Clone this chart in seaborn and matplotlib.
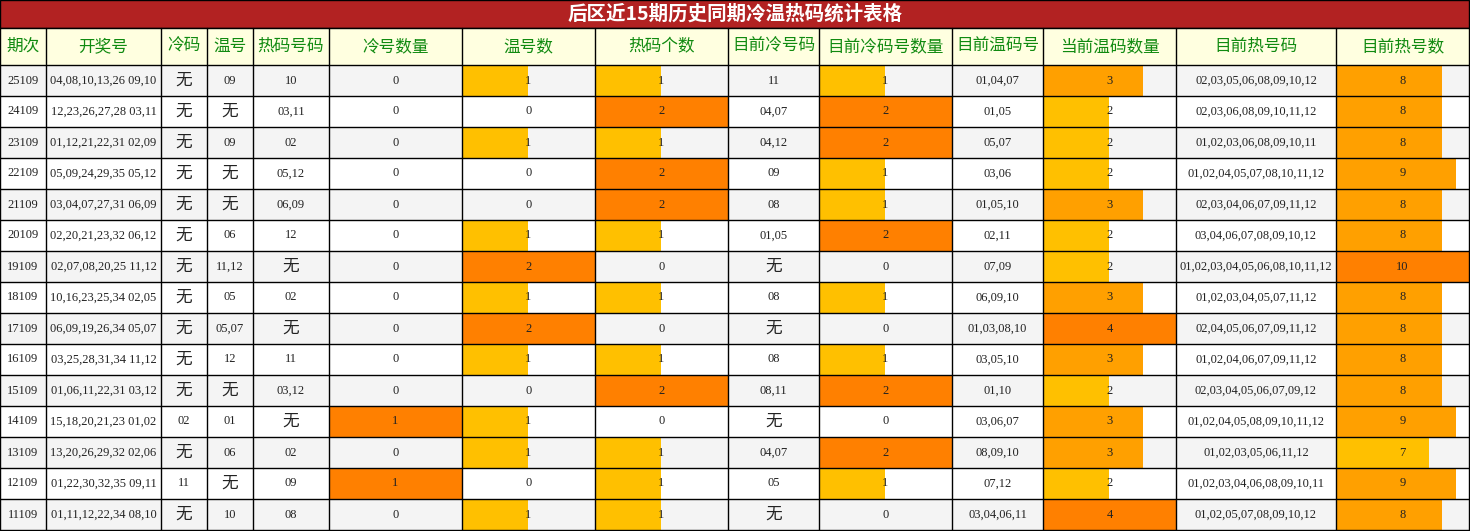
import matplotlib
matplotlib.use("Agg")
import matplotlib.pyplot as plt
from matplotlib.patches import Rectangle
import seaborn as sns

sns.set_theme(style="white")
plt.rcParams['font.family'] = ['Liberation Serif', 'Noto Sans CJK SC']

title = "后区近15期历史同期冷温热码统计表格"
headers = ["期次", "开奖号", "冷码", "温号", "热码号码", "冷号数量", "温号数", "热码个数",
           "目前冷号码", "目前冷码号数量", "目前温码号", "当前温码数量", "目前热号码", "目前热号数"]
periods = ["25109", "24109", "23109", "22109", "21109", "20109", "19109", "18109",
           "17109", "16109", "15109", "14109", "13109", "12109", "11109"]
draws = ["04,08,10,13,26 09,10", "12,23,26,27,28 03,11", "01,12,21,22,31 02,09",
         "05,09,24,29,35 05,12", "03,04,07,27,31 06,09", "02,20,21,23,32 06,12",
         "02,07,08,20,25 11,12", "10,16,23,25,34 02,05", "06,09,19,26,34 05,07",
         "03,25,28,31,34 11,12", "01,06,11,22,31 03,12", "15,18,20,21,23 01,02",
         "13,20,26,29,32 02,06", "01,22,30,32,35 09,11", "01,11,12,22,34 08,10"]
cold = ["无", "无", "无", "无", "无", "无", "无", "无", "无", "无", "无", "02", "无", "11", "无"]
warm = ["09", "无", "09", "无", "无", "06", "11,12", "05", "05,07", "12", "无", "01", "06", "无", "10"]
hot = ["10", "03,11", "02", "05,12", "06,09", "12", "无", "02", "无", "11", "03,12", "无", "02", "09", "08"]
cold_n = [0, 0, 0, 0, 0, 0, 0, 0, 0, 0, 0, 1, 0, 1, 0]
warm_n = [1, 0, 1, 0, 0, 1, 2, 1, 2, 1, 0, 1, 1, 0, 1]
hot_n = [1, 2, 1, 2, 2, 1, 0, 1, 0, 1, 2, 0, 1, 1, 1]
cur_cold = ["11", "04,07", "04,12", "09", "08", "01,05", "无", "08", "无", "08", "08,11", "无", "04,07", "05", "无"]
cur_cold_n = [1, 2, 2, 1, 1, 2, 0, 1, 0, 1, 2, 0, 2, 1, 0]
cur_warm = ["01,04,07", "01,05", "05,07", "03,06", "01,05,10", "02,11", "07,09", "06,09,10",
            "01,03,08,10", "03,05,10", "01,10", "03,06,07", "08,09,10", "07,12", "03,04,06,11"]
cur_warm_n = [3, 2, 2, 2, 3, 2, 2, 3, 4, 3, 2, 3, 3, 2, 4]
cur_hot = ["02,03,05,06,08,09,10,12", "02,03,06,08,09,10,11,12", "01,02,03,06,08,09,10,11",
           "01,02,04,05,07,08,10,11,12", "02,03,04,06,07,09,11,12", "03,04,06,07,08,09,10,12",
           "01,02,03,04,05,06,08,10,11,12", "01,02,03,04,05,07,11,12", "02,04,05,06,07,09,11,12",
           "01,02,04,06,07,09,11,12", "02,03,04,05,06,07,09,12", "01,02,04,05,08,09,10,11,12",
           "01,02,03,05,06,11,12", "01,02,03,04,06,08,09,10,11", "01,02,05,07,08,09,10,12"]
cur_hot_n = [8, 8, 8, 9, 8, 8, 10, 8, 8, 8, 8, 9, 7, 9, 8]

columns = [periods, draws, cold, warm, hot, cold_n, warm_n, hot_n,
           cur_cold, cur_cold_n, cur_warm, cur_warm_n, cur_hot, cur_hot_n]
numeric = {5, 6, 7, 9, 11, 13}
edges = [0, 46, 161, 207, 253, 329, 462, 595, 728, 819, 952, 1043, 1176, 1336, 1469]

W, H = 1470, 531
fig = plt.figure(figsize=(W / 100, H / 100), dpi=100)
ax = fig.add_axes([0, 0, 1, 1])
ax.set_xlim(0, W)
ax.set_ylim(H, 0)
ax.axis('off')

title_h, head_y0, head_y1 = 28, 28, 65
row_h = 31

ax.add_patch(Rectangle((0, 0), 1469, title_h, facecolor="#b22222", edgecolor="black", lw=1))
ax.text(735, 14, title, color="white", fontsize=14, fontweight="bold",
        ha="center", va="center", family=['Noto Sans CJK SC'])
ax.add_patch(Rectangle((0, head_y0), 1469, head_y1 - head_y0, facecolor="#ffffe0", edgecolor="none"))
for j, hname in enumerate(headers):
    cx = (edges[j] + edges[j + 1]) / 2
    ax.text(cx, (head_y0 + head_y1) / 2, hname, color="#108a10", fontsize=12,
            ha="center", va="center", family=['Noto Sans CJK SC'])


def bar_color(r):
    if r >= 1:
        return "#ff8000"
    if r >= 0.75:
        return "#ffa000"
    return "#ffc000"


for i in range(len(periods)):
    y0 = head_y1 + i * row_h
    bg = "#f4f4f4" if i % 2 == 0 else "white"
    ax.add_patch(Rectangle((0, y0), 1469, row_h, facecolor=bg, edgecolor="none"))
    for j, col in enumerate(columns):
        x0, x1 = edges[j], edges[j + 1]
        val = col[i]
        if j in numeric:
            mx = max(col)
            r = val / mx if mx else 0
            if r > 0:
                ax.add_patch(Rectangle((x0, y0), (x1 - x0) * r, row_h,
                                       facecolor=bar_color(r), edgecolor="none"))
        fs = 12 if val == "无" else 9
        ax.text((x0 + x1) / 2, y0 + row_h / 2, str(val), fontsize=fs, color="#222222",
                ha="center", va="center")

# grid lines
bottom = head_y1 + len(periods) * row_h
for x in edges:
    ax.plot([x, x], [head_y0, bottom], color="black", lw=1)
for k in range(len(periods) + 1):
    y = head_y1 + k * row_h
    ax.plot([0, 1469], [y, y], color="black", lw=1)
ax.plot([0, 1469], [head_y0, head_y0], color="black", lw=1)

fig.savefig("out.png", dpi=100)
